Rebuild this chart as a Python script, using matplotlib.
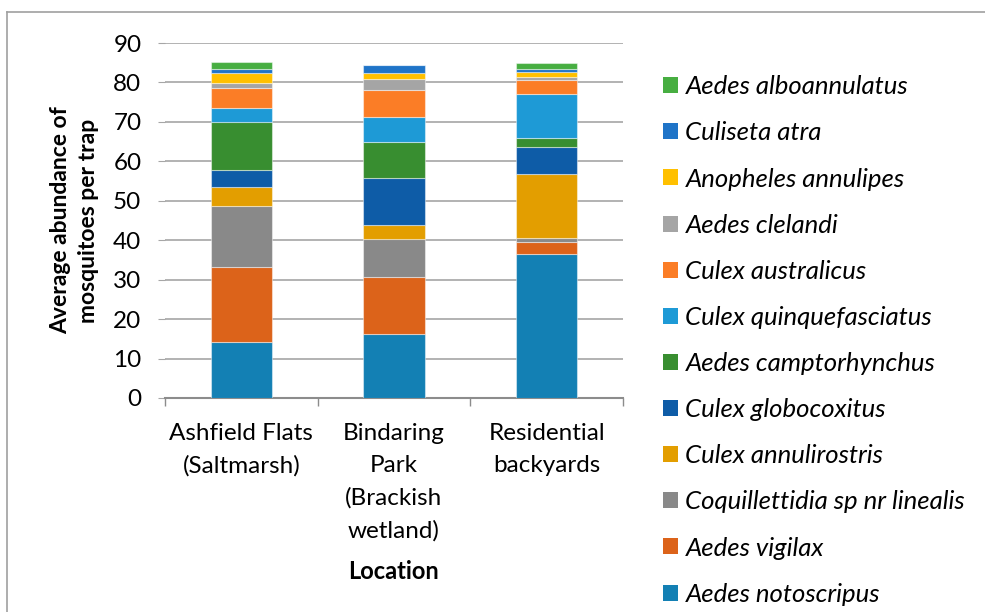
import matplotlib.pyplot as plt
from matplotlib.lines import Line2D
from matplotlib.patches import Patch

plt.rcParams['font.family'] = ['Lato', 'DejaVu Sans']

locations = ["Ashfield Flats\n(Saltmarsh)", "Bindaring\nPark\n(Brackish\nwetland)", "Residential\nbackyards"]

# stacking order, bottom to top
species = [
    "Aedes notoscripus",
    "Aedes vigilax",
    "Coquillettidia sp nr linealis",
    "Culex annulirostris",
    "Culex globocoxitus",
    "Aedes camptorhynchus",
    "Culex quinquefasciatus",
    "Culex australicus",
    "Aedes clelandi",
    "Anopheles annulipes",
    "Culiseta atra",
    "Aedes alboannulatus",
]

# values per location (Ashfield, Bindaring, Residential)
notoscripus = [14.3, 16.1, 36.6]
vigilax = [18.9, 14.7, 2.9]
coquillettidia = [15.5, 9.4, 1.1]
annulirostris = [4.9, 3.6, 16.1]
globocoxitus = [4.1, 12.1, 7.0]
camptorhynchus = [12.3, 8.9, 2.3]
quinquefasciatus = [3.5, 6.5, 11.0]
australicus = [5.2, 6.7, 3.6]
clelandi = [1.1, 2.9, 0.8]
annulipes = [2.6, 1.5, 1.2]
atra = [1.1, 2.0, 0.7]
alboannulatus = [1.6, 0.0, 1.7]

series = [notoscripus, vigilax, coquillettidia, annulirostris, globocoxitus,
          camptorhynchus, quinquefasciatus, australicus, clelandi, annulipes,
          atra, alboannulatus]

colors = ["#1380B4", "#DC631A", "#898989", "#E39E00", "#0E5CA7", "#388E30",
          "#1E9AD6", "#FB7D26", "#A5A5A5", "#FFC000", "#1F74C8", "#47AE41"]

fig = plt.figure(figsize=(9.85, 6.12), dpi=100)
ax = fig.add_axes([0.1675, 0.3497, 0.465, 0.58])

x = range(len(locations))
bottom = [0.0] * len(locations)
for vals, col, name in zip(series, colors, species):
    ax.bar(x, vals, width=0.4, bottom=bottom, color=col, edgecolor=(1, 1, 1, 0.45),
           linewidth=0.8, label=name, zorder=3)
    bottom = [b + v for b, v in zip(bottom, vals)]

ax.set_xlim(-0.5, 2.5)
ax.set_ylim(0, 90)
ax.set_yticks(range(0, 91, 10))
ax.yaxis.grid(True, color="#A6A6A6", linewidth=1.2, zorder=0)
ax.set_axisbelow(True)

for s in ["top", "right", "left"]:
    ax.spines[s].set_visible(False)
ax.spines["bottom"].set_color("#8C8C8C")
ax.spines["bottom"].set_linewidth(1.5)

ax.tick_params(axis="y", length=5, color="#A6A6A6", labelsize=17.5, pad=12)
ax.set_xticks([0, 1, 2])
ax.set_xticklabels(locations, fontsize=17.5, linespacing=1.65, va="top")
ax.set_xticks([-0.5, 0.5, 1.5, 2.5], minor=True)
ax.tick_params(axis="x", which="major", length=0, pad=18)
ax.tick_params(axis="x", which="minor", length=6, color="#8C8C8C", width=1)

ax.set_ylabel("Average abundance of\nmosquitoes per trap", fontsize=16.5, fontweight="bold",
              linespacing=1.4, labelpad=10)
ax.set_xlabel("Location", fontsize=17, fontweight="bold", labelpad=13)

handles = [Patch(facecolor=c) for c in colors][::-1]
labels = species[::-1]
leg = fig.legend(handles, labels, loc="upper left", bbox_to_anchor=(653 / 985, 1 - 65 / 612),
                 frameon=False, prop={"style": "italic", "size": 18.5},
                 handlelength=0.58, handleheight=0.58, handletextpad=0.28, labelspacing=0.9,
                 borderaxespad=0)

# outer chart border
fig.add_artist(Line2D([7 / 985, 7 / 985], [0, 1 - 12 / 612], color="#A0A0A0", linewidth=1.2))
fig.add_artist(Line2D([7 / 985, 1], [1 - 12 / 612, 1 - 12 / 612], color="#A0A0A0", linewidth=1.2))

fig.savefig("out.png", dpi=100)
